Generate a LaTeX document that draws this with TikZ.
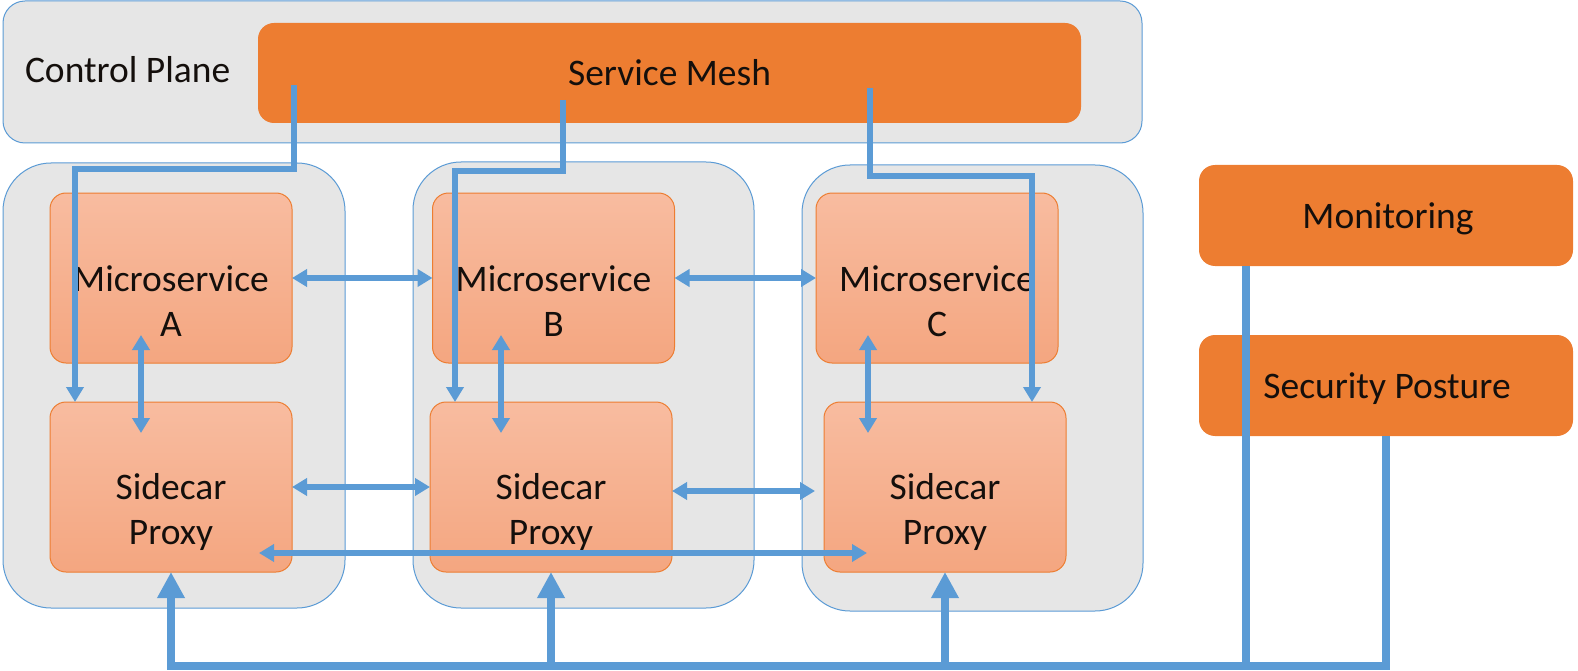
\documentclass[tikz,border=0pt]{standalone}
\usepackage{fontspec}
\setmainfont{Carlito}
\usetikzlibrary{arrows.meta,calc}
\definecolor{cpblue}{HTML}{5B9BD5}
\definecolor{orng}{HTML}{ED7D31}
\definecolor{podgray}{HTML}{E6E6E6}
\definecolor{salmtop}{HTML}{F8BCA0}
\definecolor{salmbot}{HTML}{F4A680}
\definecolor{txt}{HTML}{140F0C}
\begin{document}
\begin{tikzpicture}[x=1pt,y=-1pt,
  region/.style={draw=cpblue,line width=1pt,fill=podgray,rounded corners=#1,inner sep=0pt,outer sep=0pt},
  orangebox/.style={fill=orng,rounded corners=16pt,inner sep=0pt,outer sep=0pt,text=txt,font=\fontsize{37.5}{45}\selectfont},
  svcbox/.style={draw=orng,line width=1pt,top color=salmtop,bottom color=salmbot,rounded corners=16pt,
    minimum width=242pt,minimum height=170pt,inner sep=0pt,outer sep=0pt},
  lbl/.style={inner sep=0pt,outer sep=0pt,text=txt,font=\fontsize{37.5}{45}\selectfont,align=center},
  link/.style={draw=cpblue,line width=5.5pt,line join=miter},
  dbl/.style={link,{Triangle[width=17pt,length=15pt]}-{Triangle[width=17pt,length=15pt]}},
  one/.style={link,-{Triangle[width=17pt,length=15pt]}},
  bus/.style={draw=cpblue,line width=8.5pt,line join=miter},
  busarrow/.style={bus,-{Triangle[width=26pt,length=26pt]}}]
\useasboundingbox (0,0) rectangle (1578,671);

% control plane
\node[region=22pt,minimum width=1139pt,minimum height=142pt] (cp) at (572.5,72) {};
\node[lbl,anchor=base west] (cptxt) at (25,83) {Control Plane};
\node[orangebox,minimum width=823pt,minimum height=100pt] (mesh) at (669.5,73) {Service Mesh};

% pods
\node[region=48pt,minimum width=342pt,minimum height=445pt] (podA) at (174,385.5) {};
\node[region=48pt,minimum width=341pt,minimum height=446pt] (podB) at (583.5,385) {};
\node[region=48pt,minimum width=341pt,minimum height=446pt] (podC) at (972.5,388) {};

% services
\node[svcbox] (mA) at (171,278) {};
\node[svcbox] (mB) at (553.5,278) {};
\node[svcbox] (mC) at (937,278) {};
\node[svcbox] (sA) at (171,487) {};
\node[svcbox] (sB) at (551,487) {};
\node[svcbox] (sC) at (945,487) {};

\node[lbl] (tmA) at (171,301) {Microservice\\A};
\node[lbl] (tmB) at (553.5,301) {Microservice\\B};
\node[lbl] (tmC) at (937,301) {Microservice\\C};
\node[lbl] (tsA) at (171,512) {Sidecar\\Proxy};
\node[lbl] (tsB) at (551,512) {Sidecar\\Proxy};
\node[lbl] (tsC) at (945,512) {Sidecar\\Proxy};

% right side
\node[orangebox,minimum width=374pt,minimum height=101pt] (mon) at (1386,215.5) {};
\node[orangebox,minimum width=374pt,minimum height=101pt] (sec) at (1386,385.5) {};
\node[lbl,anchor=base] (montxt) at (1388,228) {Monitoring};
\node[lbl,anchor=base] (sectxt) at (1387,398) {Security Posture};

% control connectors
\coordinate (m1) at (294,85);  \coordinate (k1) at (75,169);
\coordinate (m2) at (563,100); \coordinate (k2) at (455,171);
\coordinate (m3) at (870,88);  \coordinate (k3) at (1032,176);
\coordinate (busy) at (0,666);
\draw[one] (m1) |- (k1) -- (sA.north -| k1);
\draw[one] (m2) |- (k2) -- (sB.north -| k2);
\draw[one] (m3) |- (k3) -- (sC.north -| k3);

% service links
\draw[dbl] (mA.east) -- (mB.west);
\draw[dbl] (mB.east) -- (mC.west);
\draw[dbl] ($(mA.south)+(-30,-28)$) -- ($(sA.north)+(-30,31)$);
\draw[dbl] ($(mB.south)+(-52.5,-28)$) -- ($(sB.north)+(-50,31)$);
\draw[dbl] ($(mC.south)+(-69,-28)$) -- ($(sC.north)+(-77,31)$);
\draw[dbl] (sA.east) -- (sB.west);
\draw[dbl] ($(sB.east)+(0,4)$) -- ($(sC.west)+(-9,4)$);
\draw[dbl] ($(sA.south east)+(-33,-19)$) -- ($(sC.south west)+(43,-19)$);

% bus
\draw[busarrow] (sec.south) |- (sA.south |- busy) -- (sA.south);
\draw[busarrow] (sB.south |- busy) -- (sB.south);
\draw[busarrow] (sC.south |- busy) -- (sC.south);
\coordinate (monx) at ($(mon.south)+(-140,0)$);
\draw[bus] (monx) -- (monx |- busy);
\end{tikzpicture}
\end{document}
